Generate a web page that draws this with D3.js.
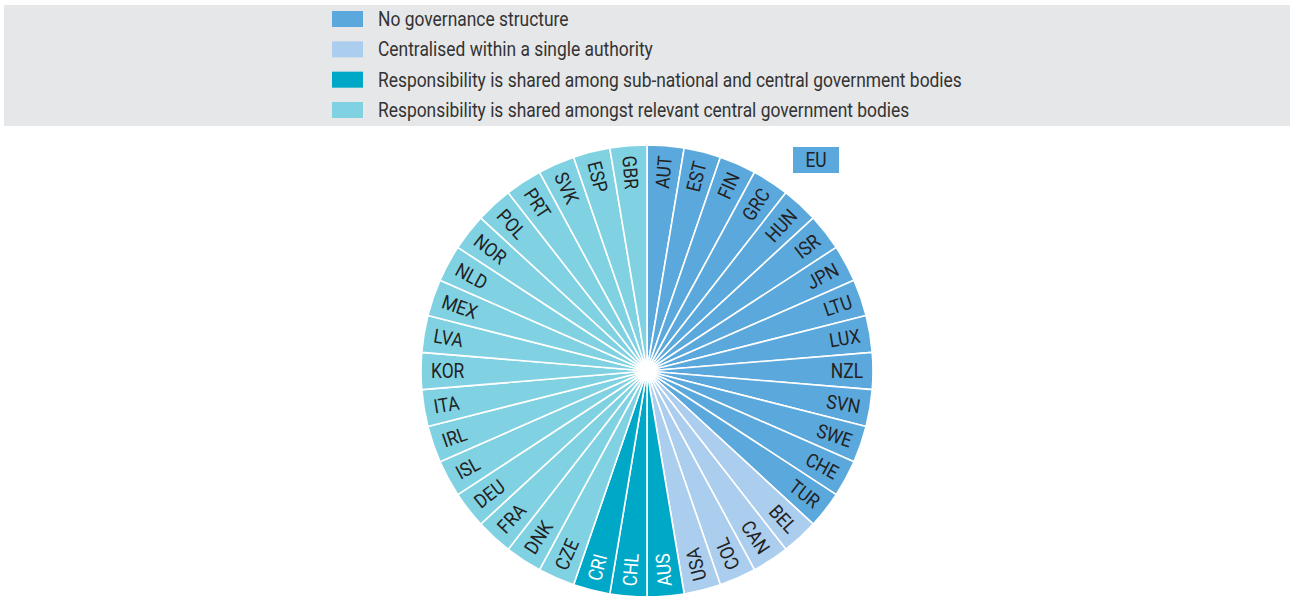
<!DOCTYPE html>
<html>
<head>
<meta charset="utf-8">
<script src="https://cdn.jsdelivr.net/npm/d3@7"></script>
<style>
  html, body { margin: 0; padding: 0; background: #ffffff; }
  svg { display: block; }
  text { font-family: Roboto, "Liberation Sans", sans-serif; }
</style>
</head>
<body>
<svg id="chart" width="1290" height="596"></svg>
<script>
// ---- data ----
const categories = [
  "No governance structure",
  "Centralised within a single authority",
  "Responsibility is shared among sub-national and central government bodies",
  "Responsibility is shared amongst relevant central government bodies"
];
const categoryColors = ["#5ba8dc", "#abcdee", "#00a8c8", "#80d2e2"];
const labelColors = ["#222222", "#222222", "#ffffff", "#222222"];

const countries = [
  "AUT","EST","FIN","GRC","HUN","ISR","JPN","LTU","LUX","NZL","SVN","SWE","CHE","TUR",
  "BEL","CAN","COL","USA",
  "AUS","CHL","CRI",
  "CZE","DNK","FRA","DEU","ISL","IRL","ITA","KOR","LVA","MEX","NLD","NOR","POL","PRT","SVK","ESP","GBR"
];
const countryCategory = [
  0,0,0,0,0,0,0,0,0,0,0,0,0,0,
  1,1,1,1,
  2,2,2,
  3,3,3,3,3,3,3,3,3,3,3,3,3,3,3,3,3
];
const euLabel = "EU";
const euCategory = 0;

// ---- layout ----
const svg = d3.select("#chart");
const W = 1290, H = 596;
const cx = 647, cy = 371, R = 226, labelR = 216;
const fontSize = 19.5;
const condense = 0.893; // horizontal squeeze to mimic a condensed face

// legend panel
svg.append("rect")
  .attr("x", 4).attr("y", 5).attr("width", W - 4).attr("height", 121)
  .attr("fill", "#e6e7e9");

const legendY = d3.scalePoint().domain(d3.range(categories.length)).range([19, 110]);
const legend = svg.append("g");
const rows = legend.selectAll("g").data(categories).join("g")
  .attr("transform", (d, i) => `translate(0,${legendY(i)})`);
rows.append("rect")
  .attr("x", 332).attr("y", -8).attr("width", 31).attr("height", 16)
  .attr("fill", (d, i) => categoryColors[i]);
rows.append("text")
  .attr("transform", `translate(378,0) scale(${condense},1)`)
  .attr("dy", "0.36em")
  .attr("font-size", fontSize).attr("fill", "#333333")
  .text(d => d);

// pie
const data = countries.map((c, i) => ({ name: c, cat: countryCategory[i] }));
const pie = d3.pie().value(() => 1).sort(null);
const arc = d3.arc().innerRadius(0).outerRadius(R);
const arcs = pie(data);

const g = svg.append("g").attr("transform", `translate(${cx},${cy})`);
g.selectAll("path").data(arcs).join("path")
  .attr("d", arc)
  .attr("fill", d => categoryColors[d.data.cat])
  .attr("stroke", "#ffffff")
  .attr("stroke-width", 1.6)
  .attr("stroke-linejoin", "round");

g.selectAll("text.lbl").data(arcs).join("text")
  .attr("class", "lbl")
  .attr("font-size", fontSize)
  .attr("fill", d => labelColors[d.data.cat])
  .attr("dy", "0.36em")
  .each(function (d) {
    const mid = (d.startAngle + d.endAngle) / 2;
    const deg = mid * 180 / Math.PI;
    const flip = deg > 150;
    const sel = d3.select(this);
    if (flip) {
      sel.attr("transform", `rotate(${deg - 90}) translate(${labelR},0) rotate(180) scale(${condense},1)`)
         .attr("text-anchor", "start");
    } else {
      sel.attr("transform", `rotate(${deg - 90}) translate(${labelR},0) scale(${condense},1)`)
         .attr("text-anchor", "end");
    }
  })
  .text(d => d.data.name);

// EU box
const eu = svg.append("g").attr("transform", "translate(793,147)");
eu.append("rect").attr("width", 46).attr("height", 26).attr("fill", categoryColors[euCategory]);
eu.append("text").attr("transform", `translate(23,13) scale(${condense},1)`).attr("dy", "0.36em")
  .attr("text-anchor", "middle").attr("font-size", fontSize).attr("fill", "#222222")
  .text(euLabel);
</script>
</body>
</html>
